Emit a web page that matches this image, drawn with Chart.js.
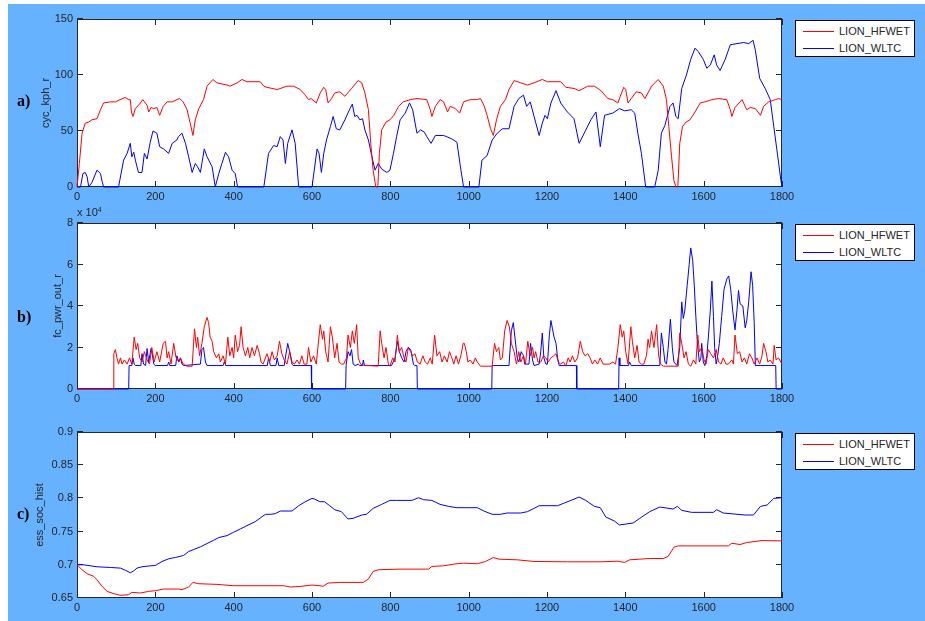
<!DOCTYPE html>
<html><head><meta charset="utf-8">
<script src="https://cdn.jsdelivr.net/npm/chart.js@4.4.1/dist/chart.umd.min.js"></script>
<style>
html,body{margin:0;padding:0;}
body{width:925px;height:621px;position:relative;overflow:hidden;background:#fff;font-family:"Liberation Sans",Arial,sans-serif;}
#bg{position:absolute;left:8px;top:4px;width:917px;height:617px;background:#66b2ff;}
canvas{position:absolute;left:0;}
.lbl{position:absolute;left:17px;font-family:"Liberation Serif","Times New Roman",serif;font-weight:bold;font-size:16px;line-height:16px;color:#000;}
.leg{position:absolute;left:795px;width:118px;height:35px;background:#fff;border:1px solid #000;}
.row{position:absolute;left:0;width:118px;height:14px;}
.row i{position:absolute;left:7px;top:7px;width:31px;height:1px;}
.row span{position:absolute;left:43px;top:0;font-size:11px;line-height:14px;color:#262626;white-space:nowrap;}
.mult{position:absolute;left:77px;top:207px;font-size:11px;color:#262626;line-height:11px;}
.mult sup{font-size:7px;vertical-align:top;position:relative;top:-3px;}
</style></head>
<body>
<div id="bg"></div>
<canvas id="cA" width="925" height="210" style="top:0px"></canvas>
<canvas id="cB" width="925" height="205" style="top:210px"></canvas>
<canvas id="cC" width="925" height="206" style="top:415px"></canvas>
<div class="lbl" style="top:93px">a)</div>
<div class="lbl" style="top:309px">b)</div>
<div class="lbl" style="top:506px">c)</div>
<div class="mult">x 10<sup>4</sup></div>
<script>
// ---- data ----
const seriesNames = ['LION_HFWET', 'LION_WLTC'];
const xTicks = [0,200,400,600,800,1000,1200,1400,1600,1800];

// a) vehicle speed cyc_kph_r [time s, km/h]
const speedHFWET = [[0,0],[6,21],[13,48],[21,57],[30,58],[38,60],[51,61],[60,69],[68,75],[85,76],[98,76],[110,78],[123,80],[132,78],[136,78],[139,67],[143,63],[149,70],[162,75],[168,78],[179,73],[183,67],[189,71],[196,70],[204,71],[211,64],[220,72],[230,76],[243,76],[255,78],[262,79],[271,76],[281,69],[289,57],[296,46],[302,60],[311,70],[323,78],[332,90],[347,96],[357,93],[383,91],[391,90],[409,93],[421,96],[434,94],[468,94],[477,90],[485,89],[511,87],[536,90],[553,90],[570,87],[583,82],[591,78],[598,79],[611,75],[621,84],[630,89],[635,87],[641,75],[650,79],[658,84],[671,85],[684,81],[701,88],[718,95],[727,93],[735,84],[744,69],[750,39],[756,15],[763,0],[768,0],[772,30],[778,51],[789,58],[799,60],[809,64],[821,72],[833,76],[851,78],[868,79],[893,78],[902,69],[906,63],[915,72],[927,78],[936,76],[946,67],[953,72],[966,70],[977,66],[987,76],[1004,78],[1022,78],[1030,79],[1039,73],[1047,64],[1056,52],[1063,46],[1071,60],[1081,72],[1094,78],[1103,87],[1116,95],[1133,93],[1150,91],[1167,93],[1188,96],[1201,94],[1235,94],[1248,89],[1269,88],[1282,86],[1304,90],[1321,90],[1338,86],[1355,79],[1368,78],[1381,75],[1387,81],[1396,89],[1401,87],[1407,75],[1415,79],[1428,85],[1441,84],[1450,79],[1467,90],[1484,96],[1497,90],[1505,78],[1511,54],[1518,27],[1524,6],[1529,0],[1534,0],[1539,39],[1546,54],[1555,58],[1565,60],[1578,67],[1591,75],[1603,76],[1621,78],[1638,79],[1659,78],[1668,69],[1672,63],[1680,71],[1698,78],[1710,69],[1719,71],[1732,70],[1745,64],[1753,72],[1766,76],[1783,78],[1791,79],[1800,78]];
const speedWLTC = [[0,0],[9,0],[15,12],[21,13],[26,9],[30,0],[38,4],[51,15],[60,12],[64,5],[68,0],[106,0],[119,24],[128,30],[136,39],[140,27],[145,31],[149,24],[157,13],[166,13],[172,30],[179,25],[187,40],[194,50],[204,48],[211,36],[221,34],[234,30],[243,39],[255,42],[259,45],[268,48],[277,39],[285,27],[294,13],[302,21],[308,18],[315,13],[325,34],[332,27],[345,18],[353,0],[362,12],[370,21],[379,31],[387,27],[396,15],[404,12],[410,0],[477,0],[489,30],[502,37],[511,36],[519,45],[526,42],[532,21],[538,39],[549,51],[557,39],[566,0],[600,0],[613,34],[618,30],[624,13],[630,30],[637,42],[647,54],[654,63],[662,52],[671,51],[684,60],[697,70],[703,74],[709,63],[715,64],[722,60],[729,61],[735,51],[744,42],[753,27],[761,15],[769,21],[778,16],[791,13],[799,15],[808,30],[816,45],[825,60],[838,66],[849,75],[857,69],[868,48],[877,51],[887,49],[893,45],[904,39],[915,46],[936,46],[957,43],[970,40],[979,18],[987,0],[1026,0],[1034,24],[1047,28],[1060,42],[1073,48],[1086,52],[1103,52],[1116,72],[1128,79],[1140,82],[1148,72],[1157,76],[1167,63],[1180,46],[1188,57],[1195,64],[1201,61],[1210,75],[1223,86],[1235,75],[1252,67],[1269,61],[1282,39],[1295,48],[1312,60],[1325,67],[1336,36],[1347,64],[1368,66],[1385,70],[1398,68],[1415,69],[1424,66],[1432,48],[1441,30],[1452,0],[1475,0],[1484,15],[1492,48],[1501,55],[1514,72],[1522,75],[1529,63],[1535,61],[1544,88],[1556,100],[1567,114],[1578,124],[1586,121],[1599,114],[1608,106],[1617,109],[1627,118],[1633,109],[1642,104],[1655,114],[1668,127],[1685,128],[1702,129],[1715,128],[1726,131],[1732,122],[1743,97],[1757,88],[1770,78],[1779,54],[1787,33],[1796,9],[1800,0]];

// b) fuel cell power fc_pwr_out_r [time s, W x 10^4]
const pwrHFWET = [[0,0],[93,0],[94,1.7],[98,1.9],[102,1.5],[106,1.2],[111,1.5],[115,1.2],[121,1.4],[128,1.2],[134,1.5],[140,1.2],[146,2.5],[151,1.9],[155,2.2],[160,1.5],[166,1.3],[172,1.8],[179,1.4],[185,1.2],[191,2.0],[197,1.3],[204,1.8],[211,1.3],[220,2.2],[226,2.3],[230,1.5],[234,1.8],[240,1.2],[247,2.2],[253,1.5],[260,1.3],[264,1.5],[271,1.2],[281,1.1],[294,1.1],[300,2.9],[305,2.0],[308,2.5],[313,1.6],[319,2.2],[325,3.0],[332,3.45],[336,3.2],[340,2.5],[345,2.3],[349,1.8],[356,1.5],[362,1.7],[366,1.3],[373,1.6],[379,1.2],[385,2.5],[390,1.6],[396,2.0],[400,1.5],[404,2.6],[410,1.8],[415,2.1],[419,3.0],[424,2.0],[430,1.6],[436,2.0],[441,1.5],[447,2.0],[453,1.6],[460,2.1],[466,1.7],[470,1.3],[475,1.2],[481,1.5],[485,1.7],[492,1.3],[498,1.8],[504,1.4],[511,1.6],[517,2.3],[523,1.7],[529,1.4],[536,1.2],[543,1.8],[549,1.3],[555,1.2],[562,1.4],[568,1.2],[574,1.6],[580,1.2],[587,1.2],[591,2.0],[597,1.3],[604,1.6],[611,1.2],[615,2.0],[621,3.1],[627,2.4],[630,2.8],[635,1.8],[641,1.3],[647,3.0],[652,2.5],[658,1.5],[664,2.2],[669,1.3],[675,1.2],[681,1.2],[688,1.5],[692,2.6],[698,2.0],[703,2.8],[708,2.2],[714,3.1],[718,1.5],[724,1.2],[731,1.15],[769,1.1],[774,2.8],[778,2.2],[784,1.5],[789,2.0],[795,1.2],[799,1.1],[806,1.5],[812,1.3],[818,2.6],[823,1.8],[829,2.0],[835,1.5],[840,1.3],[846,2.0],[852,1.8],[857,1.6],[863,1.7],[869,1.3],[876,1.2],[883,1.6],[889,1.3],[895,1.2],[902,1.5],[907,1.2],[913,2.6],[919,1.6],[926,1.8],[932,1.3],[938,1.6],[945,1.3],[951,1.8],[957,1.5],[962,1.2],[968,1.6],[974,1.2],[980,1.6],[986,2.2],[989,2.2],[994,1.8],[998,1.3],[1004,1.4],[1011,1.2],[1017,1.5],[1022,1.3],[1030,1.1],[1060,1.1],[1066,2.2],[1071,1.8],[1077,2.0],[1081,1.4],[1086,1.5],[1092,2.8],[1098,3.3],[1104,3.0],[1109,2.2],[1116,1.8],[1122,1.2],[1128,1.8],[1133,1.3],[1140,1.6],[1145,1.2],[1151,2.3],[1157,1.6],[1163,2.0],[1167,1.5],[1171,1.8],[1177,1.3],[1184,1.3],[1191,1.6],[1197,1.5],[1203,1.3],[1210,1.5],[1217,1.6],[1223,1.7],[1229,1.3],[1235,1.2],[1242,1.3],[1248,1.1],[1254,1.5],[1259,1.3],[1265,1.6],[1271,1.3],[1278,1.5],[1285,2.3],[1291,1.8],[1297,1.6],[1304,1.7],[1310,1.5],[1316,1.2],[1322,1.4],[1329,1.2],[1336,1.5],[1343,1.2],[1351,1.2],[1360,1.2],[1368,1.3],[1375,1.2],[1381,2.0],[1387,3.1],[1392,2.5],[1396,2.8],[1401,1.8],[1407,1.2],[1414,3.0],[1418,2.3],[1424,1.5],[1430,2.1],[1435,1.3],[1441,1.2],[1447,1.2],[1454,1.6],[1458,2.4],[1462,2.0],[1467,2.8],[1473,2.0],[1480,3.1],[1485,1.6],[1490,1.2],[1497,1.1],[1535,1.1],[1539,2.7],[1544,2.2],[1550,1.5],[1555,1.8],[1561,1.2],[1567,1.1],[1574,1.4],[1580,1.2],[1585,2.6],[1589,1.8],[1595,2.0],[1601,1.4],[1606,1.2],[1612,1.9],[1618,1.7],[1625,1.5],[1632,1.9],[1638,1.3],[1644,1.2],[1650,1.5],[1657,1.2],[1663,1.2],[1672,1.4],[1676,1.2],[1680,2.6],[1686,1.7],[1692,1.8],[1698,1.3],[1704,1.5],[1710,1.2],[1717,1.7],[1723,1.5],[1729,1.2],[1736,1.5],[1743,1.2],[1749,1.6],[1753,2.2],[1759,1.8],[1764,1.3],[1770,1.4],[1777,1.2],[1780,2.1],[1785,1.4],[1791,1.5],[1800,1.2]];
const pwrWLTC = [[0,0],[132,0],[133,1.13],[140,1.13],[143,1.5],[146,1.2],[150,1.13],[163,1.13],[166,1.7],[170,1.2],[175,1.13],[179,1.95],[183,1.3],[189,1.95],[192,1.7],[196,1.2],[200,1.13],[231,1.13],[234,1.3],[237,1.13],[252,1.13],[255,1.6],[260,1.3],[264,1.5],[268,1.2],[272,1.13],[315,1.2],[319,1.9],[323,2.0],[328,1.3],[332,1.13],[373,1.13],[376,1.3],[380,1.13],[486,1.13],[489,1.5],[494,1.13],[508,1.13],[511,1.5],[515,1.13],[529,1.13],[532,1.5],[538,2.2],[543,1.8],[549,1.2],[552,1.13],[598,1.13],[599,0],[686,0],[687,1.13],[692,1.8],[697,1.6],[701,1.9],[705,1.2],[710,1.13],[718,1.2],[722,1.13],[729,1.13],[731,1.4],[734,1.13],[803,1.13],[812,1.5],[818,2.3],[823,1.8],[829,1.5],[835,1.3],[840,1.8],[846,2.0],[852,1.9],[859,1.2],[862,1.13],[868,1.13],[869,0],[1059,0],[1060,1.13],[1103,1.13],[1109,2.8],[1114,3.2],[1118,2.5],[1124,1.5],[1128,1.3],[1134,1.8],[1140,1.6],[1143,1.2],[1154,1.2],[1158,2.2],[1163,1.4],[1167,1.13],[1180,1.2],[1184,1.8],[1188,2.7],[1192,1.5],[1197,1.2],[1201,1.2],[1206,2.6],[1210,3.3],[1214,2.9],[1218,2.5],[1223,2.2],[1227,1.5],[1231,1.13],[1275,1.13],[1276,0],[1383,0],[1384,1.5],[1386,1.13],[1408,1.13],[1411,1.3],[1415,1.13],[1488,1.13],[1492,2.7],[1497,2.0],[1501,1.3],[1505,1.2],[1509,1.9],[1515,3.36],[1520,2.0],[1524,1.3],[1532,1.13],[1539,2.0],[1544,4.2],[1548,3.4],[1552,3.8],[1558,5.0],[1563,6.0],[1567,6.8],[1572,6.2],[1576,5.0],[1580,3.5],[1584,2.2],[1589,1.3],[1593,1.5],[1595,2.2],[1599,1.3],[1603,1.13],[1608,1.6],[1612,2.5],[1617,3.8],[1621,5.2],[1625,3.5],[1628,2.0],[1632,1.2],[1635,1.5],[1640,2.2],[1646,3.5],[1652,4.8],[1659,5.3],[1664,5.45],[1669,4.8],[1674,3.8],[1680,2.85],[1685,3.8],[1689,4.75],[1693,4.1],[1700,4.0],[1706,2.95],[1710,3.3],[1715,4.2],[1721,5.65],[1725,5.0],[1729,3.2],[1732,1.13],[1784,1.13],[1785,0],[1800,0]];

// c) battery state of charge ess_soc_hist [time s, -]
const socHFWET = [[0,0.700],[13,0.6925],[26,0.6865],[43,0.6825],[51,0.6775],[64,0.6675],[77,0.660],[94,0.6565],[111,0.654],[132,0.655],[140,0.6585],[162,0.6575],[183,0.660],[200,0.661],[221,0.6635],[260,0.6635],[268,0.6625],[285,0.6665],[296,0.6735],[311,0.6715],[357,0.6705],[400,0.6685],[528,0.6685],[545,0.6665],[570,0.6675],[600,0.6695],[620,0.6685],[628,0.6675],[641,0.6725],[671,0.6735],[731,0.6735],[744,0.6785],[756,0.690],[769,0.6925],[825,0.6935],[898,0.6935],[906,0.6975],[936,0.6985],[962,0.701],[987,0.7025],[1022,0.7015],[1043,0.705],[1063,0.711],[1077,0.7085],[1124,0.7075],[1167,0.705],[1252,0.7045],[1338,0.7045],[1381,0.7055],[1398,0.7035],[1411,0.7075],[1437,0.7085],[1462,0.7095],[1497,0.7095],[1509,0.7125],[1524,0.7265],[1535,0.7285],[1663,0.7285],[1672,0.7325],[1693,0.7305],[1710,0.7335],[1749,0.7365],[1800,0.736]];
const socWLTC = [[0,0.700],[17,0.700],[51,0.697],[85,0.696],[111,0.695],[123,0.692],[136,0.688],[145,0.691],[153,0.695],[166,0.697],[179,0.698],[200,0.699],[217,0.705],[234,0.709],[251,0.711],[272,0.714],[285,0.720],[298,0.723],[315,0.727],[332,0.732],[349,0.737],[362,0.741],[383,0.744],[400,0.749],[417,0.754],[434,0.759],[455,0.765],[481,0.776],[494,0.776],[506,0.777],[519,0.781],[549,0.781],[566,0.789],[583,0.795],[600,0.800],[607,0.799],[620,0.795],[632,0.795],[645,0.789],[658,0.783],[675,0.780],[692,0.769],[705,0.770],[727,0.775],[739,0.776],[756,0.785],[778,0.791],[799,0.797],[816,0.797],[855,0.797],[872,0.801],[885,0.798],[906,0.797],[927,0.791],[949,0.788],[970,0.786],[1022,0.786],[1039,0.781],[1060,0.776],[1081,0.776],[1098,0.778],[1133,0.778],[1150,0.780],[1167,0.785],[1180,0.789],[1227,0.789],[1244,0.793],[1261,0.797],[1282,0.802],[1299,0.797],[1321,0.788],[1336,0.786],[1350,0.772],[1372,0.766],[1385,0.760],[1420,0.763],[1437,0.770],[1462,0.780],[1488,0.787],[1522,0.784],[1533,0.788],[1544,0.782],[1569,0.779],[1625,0.779],[1633,0.783],[1650,0.778],[1706,0.775],[1727,0.775],[1745,0.788],[1762,0.790],[1779,0.800],[1800,0.801]];

const yTicksA = [0,50,100,150];
const yTicksB = [0,2,4,6,8];
const yTicksC = [0.65,0.7,0.75,0.8,0.85,0.9];

// ---- drawing ----
const FONT = '"Liberation Sans", Arial, sans-serif';
const TXT = '#262626';
const COLORS = ['#ff0000', '#0000ff'];
const toXY = arr => arr.map(p => ({x: p[0], y: p[1]}));

const frame = {
  id: 'frame',
  beforeDraw(chart) {
    const {ctx, chartArea: a} = chart;
    ctx.save(); ctx.fillStyle = '#fff';
    ctx.fillRect(a.left, a.top, a.right - a.left, a.bottom - a.top);
    ctx.restore();
  },
  beforeDatasetsDraw(chart) {
    const {ctx, chartArea: a, scales: {x, y}} = chart;
    const L = 6;
    ctx.save();
    ctx.strokeStyle = '#262626'; ctx.lineWidth = 1;
    ctx.beginPath();
    x.ticks.forEach(t => {
      const px = Math.round(x.getPixelForValue(t.value)) + 0.5;
      ctx.moveTo(px, a.bottom); ctx.lineTo(px, a.bottom - L);
      ctx.moveTo(px, a.top); ctx.lineTo(px, a.top + L);
    });
    y.ticks.forEach(t => {
      const py = Math.round(y.getPixelForValue(t.value)) - 0.5;
      ctx.moveTo(a.left, py); ctx.lineTo(a.left + L, py);
      ctx.moveTo(a.right, py); ctx.lineTo(a.right - L, py);
    });
    ctx.stroke();
    ctx.strokeRect(a.left + 0.5, a.top + 0.5, a.right - a.left - 1, a.bottom - a.top - 1);
    ctx.restore();
  }
};

function makeChart(id, series, yMin, yMax, yTicks, yTitle, titlePad, padTop, xH, fmt) {
  return new Chart(document.getElementById(id), {
    type: 'line',
    data: {
      datasets: series.map((s, i) => ({
        label: seriesNames[i], data: toXY(s), borderColor: COLORS[i],
        borderWidth: 1, pointRadius: 0, tension: 0, fill: false, clip: 3
      }))
    },
    options: {
      responsive: false, animation: false, events: [],
      layout: {padding: {left: 0, right: 143, top: padTop, bottom: 0}},
      plugins: {legend: {display: false}, tooltip: {enabled: false}},
      scales: {
        x: {
          type: 'linear', min: 0, max: 1800,
          afterBuildTicks: s => { s.ticks = xTicks.map(v => ({value: v})); },
          ticks: {color: TXT, font: {family: FONT, size: 11}, padding: 3, maxRotation: 0, autoSkip: false,
                  callback: v => String(v)},
          grid: {display: false, drawTicks: false}, border: {display: false},
          afterFit: s => { s.height = xH; }
        },
        y: {
          type: 'linear', min: yMin, max: yMax,
          afterBuildTicks: s => { s.ticks = yTicks.map(v => ({value: v})); },
          ticks: {color: TXT, font: {family: FONT, size: 11}, padding: 4, autoSkip: false,
                  callback: fmt || (v => String(v))},
          grid: {display: false, drawTicks: false}, border: {display: false},
          title: {display: true, text: yTitle, color: TXT, font: {family: FONT, size: 11}, padding: {top: titlePad, bottom: 0}},
          afterFit: s => { s.width = 77; }
        }
      }
    },
    plugins: [frame]
  });
}

const charts = [
  makeChart('cA', [speedHFWET, speedWLTC], 0, 150, yTicksA, 'cyc_kph_r', 39, 19, 23),
  makeChart('cB', [pwrHFWET, pwrWLTC], 0, 8, yTicksB, 'fc_pwr_out_r', 51, 13, 26),
  makeChart('cC', [socHFWET, socWLTC], 0.65, 0.9, yTicksC, 'ess_soc_hist', 33, 17, 23,
            v => String(Math.round(v * 100) / 100))
];

// legends built from the chart datasets
const legendTops = [20, 224, 433];
charts.forEach((ch, k) => {
  const box = document.createElement('div');
  box.className = 'leg'; box.style.top = legendTops[k] + 'px';
  ch.data.datasets.forEach((ds, i) => {
    const row = document.createElement('div');
    row.className = 'row'; row.style.top = (3 + i * 16.6) + 'px';
    const ln = document.createElement('i'); ln.style.background = ds.borderColor;
    const tx = document.createElement('span'); tx.textContent = ds.label;
    row.appendChild(ln); row.appendChild(tx); box.appendChild(row);
  });
  document.body.appendChild(box);
});
</script>
</body></html>
